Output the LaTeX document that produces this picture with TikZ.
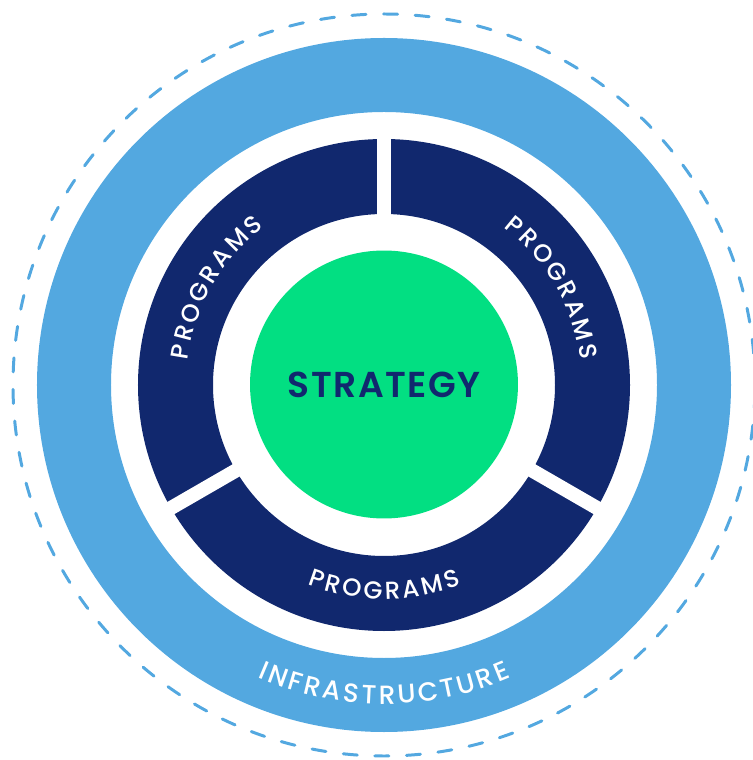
\documentclass[tikz,border=0pt]{standalone}
\usepackage{fontspec}
\setmainfont{Poppins}
\newfontfamily\ringfont{Poppins Medium}
\newfontfamily\corefont[LetterSpace=4]{Poppins SemiBold}
\usetikzlibrary{decorations.text}

\definecolor{infrablue}{RGB}{83,168,224}
\definecolor{prognavy}{RGB}{17,40,110}
\definecolor{stratgreen}{RGB}{2,223,130}

\tikzset{
  ringtext/.style={decorate, decoration={text along path, text align=center,
    text color=white, text={#1}}},
  gapline/.style={white, line width=8pt}
}

% spread-out ring labels (one kern group between letters)
\def\progword{P{\kern1.6pt}R{\kern1.6pt}O{\kern1.6pt}G{\kern1.6pt}R{\kern1.6pt}A{\kern1.6pt}M{\kern1.6pt}S}
\def\infraword{I{\kern1.6pt}N{\kern1.6pt}F{\kern1.6pt}R{\kern1.6pt}A{\kern1.6pt}S{\kern1.6pt}T{\kern1.6pt}R{\kern1.6pt}U{\kern1.6pt}C{\kern1.6pt}T{\kern1.6pt}U{\kern1.6pt}R{\kern1.6pt}E}

\begin{document}
\begin{tikzpicture}[x=0.02cm,y=0.02cm]
\useasboundingbox (-384,-375) rectangle (369,385);

% dashed outline round everything
\draw[infrablue, line width=1.7pt, dash pattern=on 8pt off 10pt, line cap=round]
  (0,0) circle[radius=371];

% infrastructure ring
\fill[infrablue, even odd rule] (0,0) circle[radius=347] (0,0) circle[radius=273];

% programs ring, cut in three
\fill[prognavy, even odd rule] (0,0) circle[radius=246] (0,0) circle[radius=171];
\foreach \a in {90,210,330}
  \draw[gapline] (\a:160) -- (\a:260);

% strategy core
\node[circle, fill=stratgreen, minimum size=5.36cm, inner sep=0pt, text=prognavy,
  font=\corefont\fontsize{20.5}{24}\selectfont] (strategy) at (0,0.5) {STRATEGY};

% ring labels
\path[ringtext/.expanded={|\noexpand\ringfont\noexpand\fontsize{14}{16}\noexpand\selectfont|\progword}]
  (190:198) arc[start angle=190, end angle=110, radius=198];
\path[ringtext/.expanded={|\noexpand\ringfont\noexpand\fontsize{14}{16}\noexpand\selectfont|\progword}]
  (70:198) arc[start angle=70, end angle=-10, radius=198];
\path[ringtext/.expanded={|\noexpand\ringfont\noexpand\fontsize{14}{16}\noexpand\selectfont|\progword}]
  (230:214) arc[start angle=230, end angle=310, radius=214];
\path[ringtext/.expanded={|\noexpand\ringfont\noexpand\fontsize{15}{17}\noexpand\selectfont|\infraword}]
  (230:319) arc[start angle=230, end angle=310, radius=319];
\end{tikzpicture}
\end{document}
